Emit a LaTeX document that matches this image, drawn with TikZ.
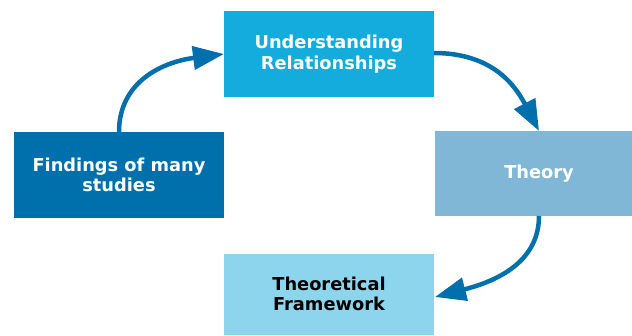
\documentclass[tikz,border=0pt]{standalone}
\usepackage{fontspec}
\setmainfont{DejaVu Sans}
\usetikzlibrary{arrows.meta}
\definecolor{cUnd}{HTML}{14ACDC}
\definecolor{cThe}{HTML}{80B6D6}
\definecolor{cFin}{HTML}{0070AD}
\definecolor{cFra}{HTML}{8DD5EC}
\definecolor{cArr}{HTML}{0070AD}
\tikzset{
  box/.style={inner sep=0pt, outer sep=0pt, align=center,
    font=\fontsize{17.8}{20.5}\selectfont\bfseries, text=white},
  conn/.style={draw=cArr, line width=4.5pt, -{Triangle[length=31pt,width=23pt]}},
}
\begin{document}
\begin{tikzpicture}[x=1pt,y=-1pt]
\useasboundingbox (0,0) rectangle (632,335);
\fill[cUnd] (224,11) rectangle (434,97);
\fill[cThe] (435,131) rectangle (632,216);
\fill[cFin] (14,132) rectangle (224,218);
\fill[cFra] (224,254) rectangle (434,335);
\node[box] (und) at (329,54) {Understanding\\Relationships};
\node[box] (the) at (539,174) {Theory};
\node[box] (fin) at (119,175) {Findings of many\\studies};
\node[box, text=black] (fra) at (329,294) {Theoretical\\Framework};
\coordinate (finT) at (119,132);
\coordinate (undL) at (224,54);
\coordinate (undR) at (434,53);
\coordinate (theT) at (539,131);
\coordinate (theB) at (539,216);
\coordinate (fraR) at (435,297);
\draw[conn] (finT) .. controls +(0,-50) and +(-62,8) .. (undL);
\draw[conn] (undR) .. controls +(58,0) and +(-24,-46) .. (theT);
\draw[conn] (theB) .. controls +(0,50) and +(54,-14) .. (fraR);
\end{tikzpicture}
\end{document}
